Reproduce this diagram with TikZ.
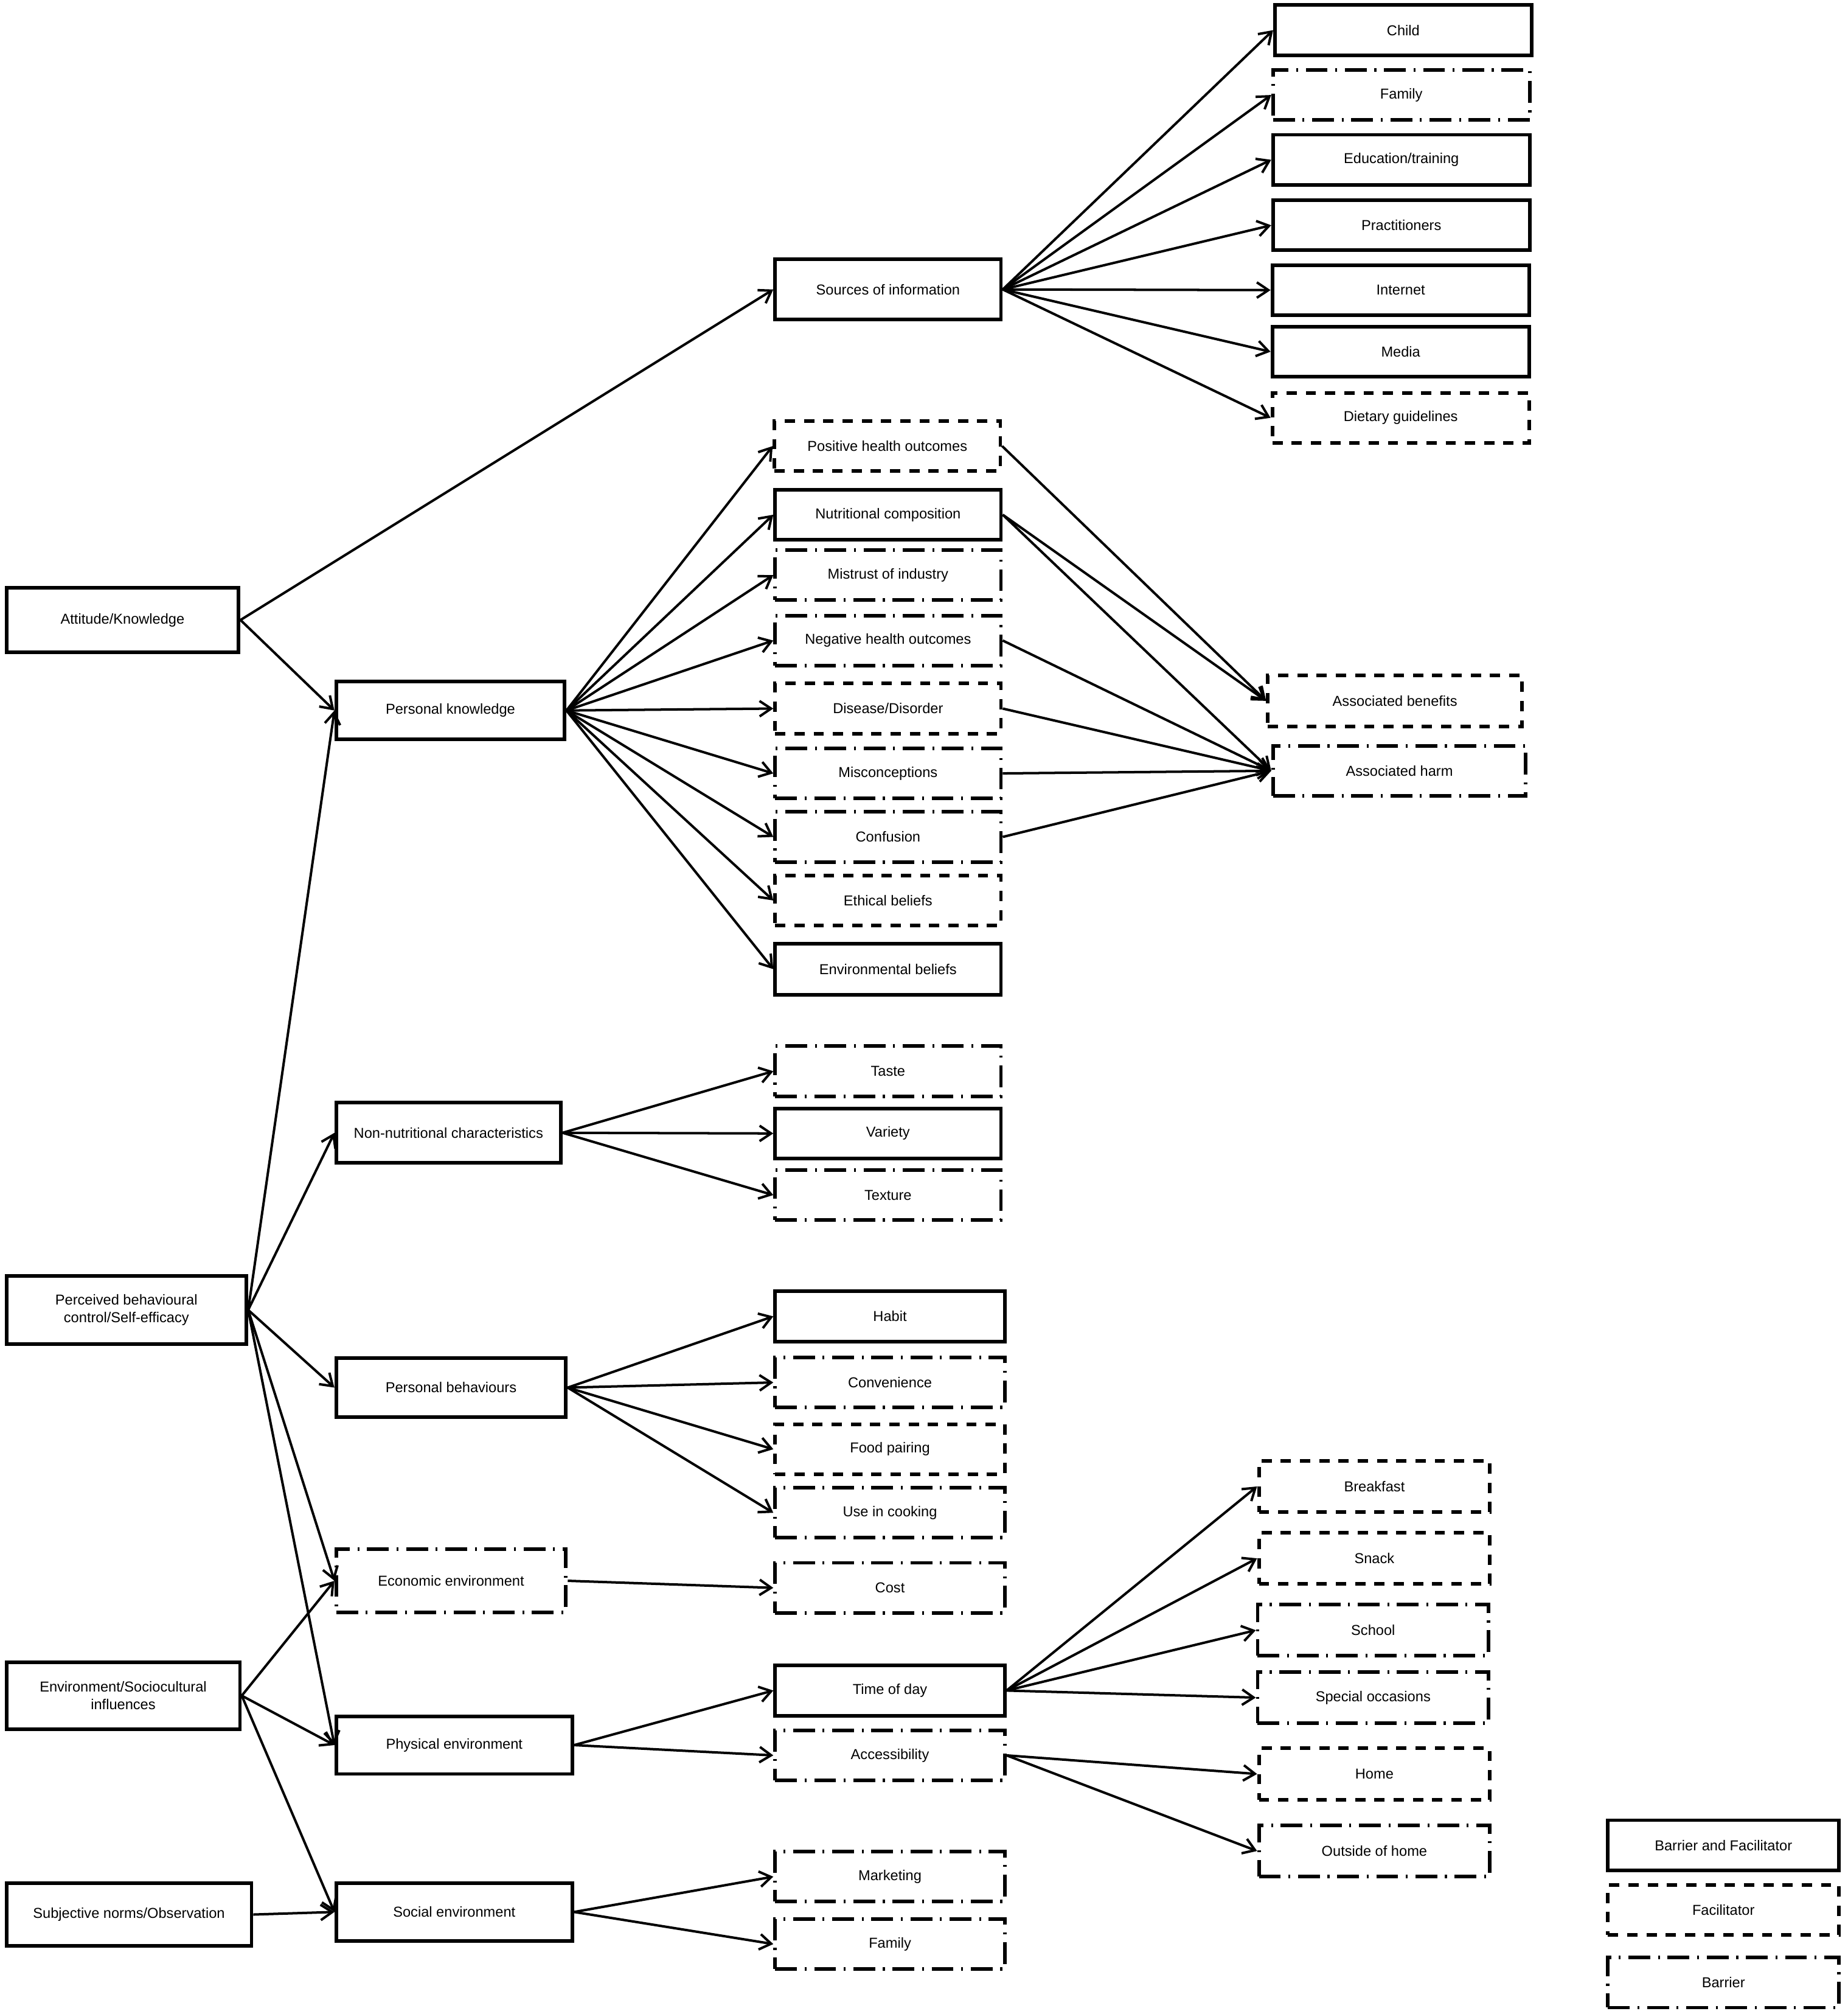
\documentclass[tikz,border=0pt]{standalone}
\usepackage{fontspec}
\setmainfont{Liberation Sans}
\usetikzlibrary{arrows.meta}

\begin{document}
\begin{tikzpicture}[x=1pt,y=-1pt,font=\fontsize{11.2}{13.6}\selectfont,
box/.style={draw, line width=2.8pt, minimum width=176pt, minimum height=39pt, inner sep=2pt, align=center},
both/.style={box},
facil/.style={box, dash pattern=on 8pt off 7pt},
barrier/.style={box, dash pattern=on 17pt off 6pt on 1.5pt off 6pt},
link/.style={line width=1.9pt, -{Straight Barb[length=9pt,width=12pt,line width=1.9pt]}}]
\useasboundingbox (0,0) rectangle (1440,1569);

% left column
\node[both, minimum width=181pt, minimum height=50pt] (ak) at (95.5,483) {Attitude/Knowledge};
\node[both, minimum width=187pt, minimum height=53pt] (pbc) at (98.5,1020.5) {Perceived behavioural\\control/Self-efficacy};
\node[both, minimum width=182pt, minimum height=52pt] (env) at (96,1321) {Environment/Sociocultural\\influences};
\node[both, minimum width=191pt, minimum height=49pt] (sn) at (100.5,1491.5) {Subjective norms/Observation};

% second column
\node[both, minimum width=178pt, minimum height=45pt] (pk) at (351,553.5) {Personal knowledge};
\node[both, minimum width=175pt, minimum height=47pt] (nnc) at (349.5,882.5) {Non-nutritional characteristics};
\node[both, minimum width=179pt, minimum height=46pt] (pb) at (351.5,1081) {Personal behaviours};
\node[barrier, minimum width=179pt, minimum height=49pt] (econ) at (351.5,1231.5) {Economic environment};
\node[both, minimum width=184pt, minimum height=45pt] (phys) at (354,1359.5) {Physical environment};
\node[both, minimum width=184pt, minimum height=45pt] (soc) at (354,1489.5) {Social environment};

% third column
\node[both, minimum height=47pt] (soi) at (692,225.5) {Sources of information};
\node[facil] (pos) at (691.5,347.5) {Positive health outcomes};
\node[both] (nutr) at (692,401) {Nutritional composition};
\node[barrier] (mistr) at (692,448) {Mistrust of industry};
\node[barrier] (neg) at (692,499) {Negative health outcomes};
\node[facil] (dis) at (692,552) {Disease/Disorder};
\node[barrier] (misc) at (692,602.5) {Misconceptions};
\node[barrier] (conf) at (692,652) {Confusion};
\node[facil] (eth) at (692,701.5) {Ethical beliefs};
\node[both, minimum height=40pt] (envb) at (692,755) {Environmental beliefs};
\node[barrier] (taste) at (692,834.5) {Taste};
\node[both] (var) at (692,883) {Variety};
\node[barrier] (text) at (692,931) {Texture};
\node[both, minimum width=179pt] (habit) at (693.5,1025.5) {Habit};
\node[barrier, minimum width=179pt] (conv) at (693.5,1077) {Convenience};
\node[facil, minimum width=179pt] (pair) at (693.5,1129) {Food pairing};
\node[barrier, minimum width=179pt] (cook) at (693.5,1178.5) {Use in cooking};
\node[barrier, minimum width=179pt] (cost) at (693.5,1237) {Cost};
\node[both, minimum width=179pt] (tod) at (693.5,1317) {Time of day};
\node[barrier, minimum width=179pt] (acc) at (693.5,1367.5) {Accessibility};
\node[barrier, minimum width=179pt] (mkt) at (693.5,1462) {Marketing};
\node[barrier, minimum width=179pt] (sfam) at (693.5,1514.5) {Family};

% fourth column, top
\node[both, minimum width=200pt] (child) at (1093.5,23.5) {Child};
\node[barrier, minimum width=200pt] (fam) at (1092,74) {Family};
\node[both, minimum width=200pt] (edu) at (1092,124.5) {Education/training};
\node[both, minimum width=200pt] (prac) at (1092,175.5) {Practitioners};
\node[both, minimum width=200pt] (inet) at (1091.5,226) {Internet};
\node[both, minimum width=200pt] (media) at (1091.5,274) {Media};
\node[facil, minimum width=200pt] (diet) at (1091.5,325.5) {Dietary guidelines};
\node[facil, minimum width=198pt, minimum height=40pt] (ben) at (1087,546) {Associated benefits};
\node[barrier, minimum width=197pt] (harm) at (1090.5,600.5) {Associated harm};

% fourth column, bottom
\node[facil, minimum width=180pt, minimum height=40pt] (bfast) at (1071,1158) {Breakfast};
\node[facil, minimum width=180pt, minimum height=40pt] (snack) at (1071,1214) {Snack};
\node[barrier, minimum width=180pt, minimum height=40pt] (school) at (1070,1270) {School};
\node[barrier, minimum width=180pt, minimum height=40pt] (spec) at (1070,1322.5) {Special occasions};
\node[facil, minimum width=180pt, minimum height=40pt] (home) at (1071,1382) {Home};
\node[barrier, minimum width=180pt, minimum height=40pt] (out) at (1071,1442) {Outside of home};

% legend
\node[both, minimum width=180pt] (lgboth) at (1343,1437.5) {Barrier and Facilitator};
\node[facil, minimum width=180pt] (lgfac) at (1343,1488) {Facilitator};
\node[barrier, minimum width=180pt] (lgbar) at (1343,1544.5) {Barrier};

% connectors
\draw[link] (ak.east) -- (soi.west);
\draw[link] (ak.east) -- (pk.west);
\draw[link] (pbc.east) -- (pk.west);
\draw[link] (pbc.east) -- (nnc.west);
\draw[link] (pbc.east) -- (pb.west);
\draw[link] (pbc.east) -- (econ.west);
\draw[link] (pbc.east) -- (phys.west);
\draw[link] (env.east) -- (econ.west);
\draw[link] (env.east) -- (phys.west);
\draw[link] (env.east) -- (soc.west);
\draw[link] (sn.east) -- (soc.west);

\draw[link] (soi.east) -- (child.west);
\draw[link] (soi.east) -- (fam.west);
\draw[link] (soi.east) -- (edu.west);
\draw[link] (soi.east) -- (prac.west);
\draw[link] (soi.east) -- (inet.west);
\draw[link] (soi.east) -- (media.west);
\draw[link] (soi.east) -- (diet.west);

\draw[link] (pk.east) -- (pos.west);
\draw[link] (pk.east) -- (nutr.west);
\draw[link] (pk.east) -- (mistr.west);
\draw[link] (pk.east) -- (neg.west);
\draw[link] (pk.east) -- (dis.west);
\draw[link] (pk.east) -- (misc.west);
\draw[link] (pk.east) -- (conf.west);
\draw[link] (pk.east) -- (eth.west);
\draw[link] (pk.east) -- (envb.west);

\draw[link] (pos.east) -- (ben.west);
\draw[link] (nutr.east) -- (ben.west);
\draw[link] (nutr.east) -- (harm.west);
\draw[link] (neg.east) -- (harm.west);
\draw[link] (dis.east) -- (harm.west);
\draw[link] (misc.east) -- (harm.west);
\draw[link] (conf.east) -- (harm.west);

\draw[link] (nnc.east) -- (taste.west);
\draw[link] (nnc.east) -- (var.west);
\draw[link] (nnc.east) -- (text.west);

\draw[link] (pb.east) -- (habit.west);
\draw[link] (pb.east) -- (conv.west);
\draw[link] (pb.east) -- (pair.west);
\draw[link] (pb.east) -- (cook.west);

\draw[link] (econ.east) -- (cost.west);

\draw[link] (phys.east) -- (tod.west);
\draw[link] (phys.east) -- (acc.west);
\draw[link] (tod.east) -- (bfast.west);
\draw[link] (tod.east) -- (snack.west);
\draw[link] (tod.east) -- (school.west);
\draw[link] (tod.east) -- (spec.west);
\draw[link] (acc.east) -- (home.west);
\draw[link] (acc.east) -- (out.west);

\draw[link] (soc.east) -- (mkt.west);
\draw[link] (soc.east) -- (sfam.west);
\end{tikzpicture}
\end{document}
